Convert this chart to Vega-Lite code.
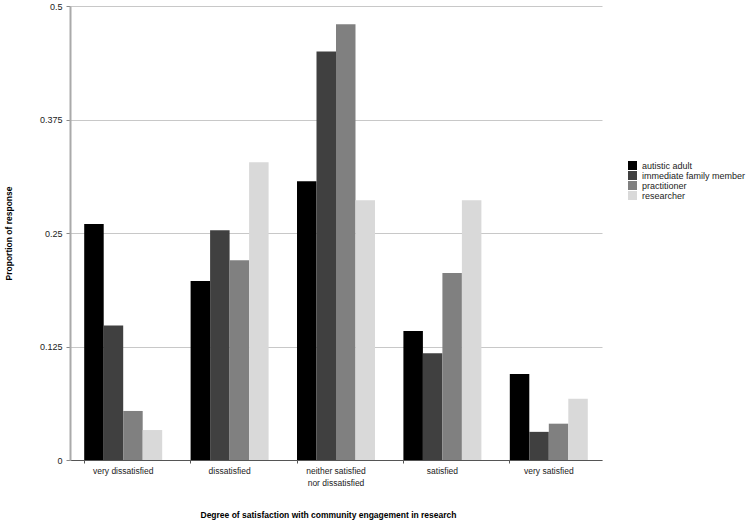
{
  "$schema": "https://vega.github.io/schema/vega-lite/v6.json",
  "autosize": {"type": "none"},
  "padding": {"left": 70, "top": 6, "right": 146, "bottom": 62},
  "width": 532,
  "height": 454,
  "background": "white",
  "config": {
    "font": "Liberation Sans",
    "view": {"stroke": null}
  },
  "data": {
    "values": [
      {"satisfaction": "very dissatisfied", "group": "autistic adult", "proportion": 0.26},
      {"satisfaction": "very dissatisfied", "group": "immediate family member", "proportion": 0.148},
      {"satisfaction": "very dissatisfied", "group": "practitioner", "proportion": 0.054},
      {"satisfaction": "very dissatisfied", "group": "researcher", "proportion": 0.033},
      {"satisfaction": "dissatisfied", "group": "autistic adult", "proportion": 0.197},
      {"satisfaction": "dissatisfied", "group": "immediate family member", "proportion": 0.253},
      {"satisfaction": "dissatisfied", "group": "practitioner", "proportion": 0.22},
      {"satisfaction": "dissatisfied", "group": "researcher", "proportion": 0.328},
      {"satisfaction": "neither satisfied nor dissatisfied", "group": "autistic adult", "proportion": 0.307},
      {"satisfaction": "neither satisfied nor dissatisfied", "group": "immediate family member", "proportion": 0.45},
      {"satisfaction": "neither satisfied nor dissatisfied", "group": "practitioner", "proportion": 0.48},
      {"satisfaction": "neither satisfied nor dissatisfied", "group": "researcher", "proportion": 0.286},
      {"satisfaction": "satisfied", "group": "autistic adult", "proportion": 0.142},
      {"satisfaction": "satisfied", "group": "immediate family member", "proportion": 0.1175},
      {"satisfaction": "satisfied", "group": "practitioner", "proportion": 0.206},
      {"satisfaction": "satisfied", "group": "researcher", "proportion": 0.286},
      {"satisfaction": "very satisfied", "group": "autistic adult", "proportion": 0.0947},
      {"satisfaction": "very satisfied", "group": "immediate family member", "proportion": 0.031},
      {"satisfaction": "very satisfied", "group": "practitioner", "proportion": 0.04},
      {"satisfaction": "very satisfied", "group": "researcher", "proportion": 0.0675}
    ]
  },
  "mark": {"type": "bar"},
  "encoding": {
    "x": {
      "field": "satisfaction",
      "type": "nominal",
      "sort": ["very dissatisfied", "dissatisfied", "neither satisfied nor dissatisfied", "satisfied", "very satisfied"],
      "scale": {"paddingInner": 0.267, "paddingOuter": 0.1335},
      "axis": {
        "title": "Degree of satisfaction with community engagement in research",
        "titleFontSize": 8.5,
        "titleFontWeight": "bold",
        "titleColor": "black",
        "titleX": 258,
        "titleY": 54,
        "titleBaseline": "middle",
        "titleAlign": "center",
        "labelAngle": 0,
        "labelFontSize": 8.5,
        "labelColor": "#222",
        "labelPadding": 3,
        "labelBaseline": "top",
        "labelExpr": "datum.value == 'neither satisfied nor dissatisfied' ? ['neither satisfied', 'nor dissatisfied'] : datum.value",
        "labelLineHeight": 12,
        "bandPosition": 0,
        "domainColor": "#555",
        "domainWidth": 1,
        "tickColor": "#555",
        "tickSize": 3,
        "grid": false
      }
    },
    "xOffset": {
      "field": "group",
      "type": "nominal",
      "scale": {"paddingInner": 0, "paddingOuter": 0}
    },
    "y": {
      "field": "proportion",
      "type": "quantitative",
      "scale": {"domain": [0, 0.5], "nice": false},
      "axis": {
        "title": "Proportion of response",
        "titleFontSize": 8.5,
        "titleFontWeight": "bold",
        "titleColor": "black",
        "titleX": -62,
        "titleY": 227,
        "titleAngle": -90,
        "titleBaseline": "middle",
        "titleAlign": "center",
        "values": [0, 0.125, 0.25, 0.375, 0.5],
        "format": ".3~f",
        "labelFontSize": 9,
        "labelColor": "#222",
        "labelPadding": 4,
        "domainColor": "#aaaaaa",
        "domainWidth": 2,
        "tickColor": "#888",
        "tickSize": 4,
        "gridColor": "#c8c8c8",
        "gridWidth": 1
      }
    },
    "color": {
      "field": "group",
      "type": "nominal",
      "scale": {
        "domain": ["autistic adult", "immediate family member", "practitioner", "researcher"],
        "range": ["#000000", "#404040", "#808080", "#d9d9d9"]
      },
      "legend": {
        "title": null,
        "orient": "none",
        "legendX": 558,
        "legendY": 155,
        "symbolType": "square",
        "symbolSize": 81,
        "symbolStrokeWidth": 0,
        "labelFontSize": 9,
        "labelColor": "#222",
        "labelOffset": 5,
        "rowPadding": 0,
        "padding": 0
      }
    }
  }
}
